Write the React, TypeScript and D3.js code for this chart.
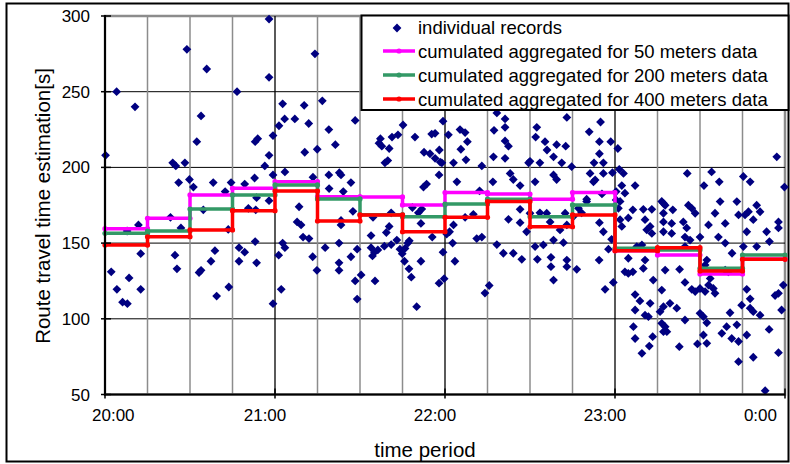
import React, { useRef, useEffect } from "react";
import * as d3 from "d3";

// individual records: [minutes after 20:00, travel time in s]
const records: [number, number][] = [
  [57.9, 298], [28.9, 278], [35.9, 265], [57.9, 259.5], [4.1, 250], [46.6, 250], [10.6, 240], [33.9, 234],
  [61.4, 227.5], [53.9, 219], [53, 217], [59.3, 221], [32.4, 217], [0.2, 208], [57.9, 208], [23.9, 203],
  [25, 201], [28.2, 203], [56.4, 201], [59.3, 195], [26, 190], [29.8, 192], [31.2, 187], [38.2, 190],
  [44.5, 190], [49.3, 189], [52.8, 193], [42.4, 184], [53.5, 180], [57.9, 178], [34.7, 172], [23.1, 167],
  [26.8, 160], [11.8, 162], [7.8, 158], [50.6, 173], [53.2, 172], [43.5, 159],
  [53, 151], [12.6, 143], [24.7, 142], [38.8, 145], [37.4, 138], [47.3, 147], [49.3, 144], [47.3, 138],
  [53.5, 137], [61.3, 142], [2.2, 131], [25.4, 133], [33.2, 130.5], [33.9, 132], [8.5, 127], [4.2, 119.5],
  [12.6, 119.5], [43.7, 121], [39.4, 115], [6.2, 111], [7.9, 110], [59.3, 110], [62.2, 119.5],
  [68.5, 174], [87.5, 171], [67.8, 164], [69.2, 162], [83.3, 165], [83.3, 162], [94.6, 167], [101, 170],
  [100.3, 161], [99.3, 157], [93.9, 155], [69.9, 154], [72, 153], [62.7, 150], [63.5, 147], [82.6, 150],
  [77.7, 147], [89, 146], [73.3, 141], [86.8, 141], [74.8, 132], [82.6, 137], [82.6, 132], [90.4, 129],
  [88.3, 125], [95.3, 125], [89, 113], [93.9, 147], [95.1, 144], [94.4, 141.5], [96.3, 145.5], [98.6, 148],
  [101, 149], [103, 152], [104.1, 146], [105.9, 146.5], [106.9, 150], [107.4, 151.5], [104.9, 143],
  [105.7, 138], [111.5, 138], [107.3, 133], [108.1, 127.5], [110, 108], [117.9, 123.5], [119.7, 126.5],
  [119.3, 144], [115.5, 154], [111.5, 163], [108.5, 173.5], [111.8, 172.5], [110.6, 170],
  [74.1, 275], [62.7, 242], [70.3, 241], [76.7, 244], [63.4, 232], [67, 232], [71.9, 229], [88.3, 231],
  [79, 225], [70.5, 210], [74.9, 212], [81.3, 215], [63.5, 197], [73.4, 193.5], [79, 195], [82.7, 196.5],
  [83.3, 195], [86.8, 190], [79.1, 186], [84.1, 184], [105.2, 228], [97.2, 219], [96.7, 216], [97.7, 214],
  [101.3, 220], [103.4, 221.5], [109.4, 220], [100.3, 212.5], [99.8, 204.5], [98.8, 203], [115.3, 222],
  [116.5, 222.5], [112.6, 210], [114.7, 209], [116.5, 206], [118.3, 203.5], [119.3, 230.5], [117.9, 195],
  [113.5, 189], [112.4, 187],
  [138.3, 236], [141.2, 232], [141.2, 226.5], [163, 233], [174.9, 230], [170.9, 223.5], [152.4, 226.5],
  [152, 220], [155.3, 217], [159.4, 215], [162.6, 214], [121.2, 221.5], [125.3, 225], [127.1, 223],
  [127.9, 217], [118, 211.5], [118.9, 203], [123, 203], [127.4, 205], [137.1, 207], [141.2, 206], [133, 201],
  [142.4, 214], [149.5, 203], [158.3, 207], [161.2, 203], [164.7, 200.5], [172.6, 203], [175.9, 203],
  [174.5, 217], [178.5, 217], [174.5, 209], [181, 212.5], [171.2, 196], [175.9, 196], [158.3, 195],
  [159.4, 192], [143, 196], [144.1, 192], [146.5, 188], [136.9, 190.5], [151.8, 190.5], [124.2, 190.5],
  [132.2, 184.5], [172.4, 190.5], [183, 196], [182.4, 188], [187.1, 188], [205.5, 196], [214.1, 197],
  [216.8, 190.5], [211.4, 188], [225.3, 194], [227.7, 190.5], [237.1, 207], [239.8, 187], [196.5, 177.5],
  [197.7, 175], [183.5, 183], [181.8, 177.5], [181.2, 173], [125.6, 212], [137.3, 224.5], [141.2, 217.5],
  [156, 211.5], [150, 204], [153.5, 203], [179.1, 196.5], [173, 191.7], [175.4, 182.5], [180.4, 184],
  [180.4, 178.5], [170, 179], [181.5, 198.7],
  [123, 162], [121.6, 157.5], [120.6, 156], [127.1, 167], [130, 169], [122.7, 150], [123.5, 138],
  [131.2, 153], [133, 154], [142.4, 165.7], [146.5, 163.5], [146.5, 172.3], [138.3, 149], [140.6, 143.3],
  [144.1, 143.3], [147.1, 139.3], [135.6, 122], [134.1, 117], [148.8, 157.5], [150, 169.7], [153.5, 170],
  [155.9, 169.7], [157.1, 164], [160.6, 158.7], [163, 162], [151.8, 147.7], [154.7, 148.8], [158.3, 152],
  [161.8, 150.3], [152.6, 139.3], [157.4, 140.6], [157.4, 134.4], [158.3, 125.6], [163, 138.8],
  [163, 134.4], [166.5, 132.7], [162.4, 169.7], [165.3, 167.5], [168.2, 170], [167.1, 173], [170, 177.4],
  [174.5, 163.5], [175.9, 157.5], [178.8, 152.5], [177.7, 146], [174.4, 138.8], [176.5, 119.5], [179.4, 124],
  [186.3, 172], [190, 172.3], [193, 172.3], [197.1, 176.3], [197.1, 169.7], [200.4, 172], [205.9, 175],
  [207.1, 173], [208.3, 169.7], [217.1, 177.4], [223, 177.4], [215.3, 169.7], [223.6, 168.6], [225.9, 168.6],
  [227.1, 170.7], [230, 175], [231.2, 170.7], [181.8, 165.5], [182.4, 161], [184.7, 166.6], [190.6, 165.5],
  [192.4, 161], [191.2, 158.8], [193, 156.4], [197.1, 164], [200, 163], [197.1, 157.5], [200, 156.4],
  [204.1, 164], [205.3, 160], [204.7, 154], [206.5, 152], [210, 154], [213, 162], [216.5, 154], [218.9, 150],
  [218.9, 163], [226.5, 157.5], [228.8, 165.5], [233.5, 157.5], [237.7, 164], [237.7, 160], [234.5, 151],
  [225.3, 147.7], [230, 147.7], [189.5, 148.8], [187.7, 147.7], [204.7, 147.7], [221.3, 143.3],
  [212.4, 138.8], [211.8, 135.5], [218.9, 132.2], [220, 131], [213.6, 126.7], [184.7, 140], [190.6, 138.8],
  [190, 133.3], [183.5, 131], [184.7, 130], [186.3, 131], [193.5, 125.6], [197.7, 132.2], [202.8, 132.7],
  [204.7, 124], [207.1, 119.5], [208.3, 118], [210, 120], [211.8, 118], [213, 122.3], [214.7, 120],
  [215.3, 116.8], [226.5, 119.5], [236.5, 115.4], [237.7, 116.8], [239.4, 122.3], [187.1, 116],
  [188.8, 111.8], [187.1, 105.8], [192.4, 110.2], [190.6, 102.4], [191.8, 101.4], [196.5, 119], [197.1, 108],
  [195.9, 104.7], [199.4, 110.2], [201.8, 107], [204.7, 99.2], [210, 103.6], [211.2, 101.4], [212.4, 97.4],
  [220.6, 104], [224.7, 109], [227.7, 107], [228.8, 104.7], [231.2, 102.4], [227.7, 113.2], [238.8, 105.8],
  [186.5, 94.8], [187.1, 87], [192.1, 82], [193.3, 88.2], [189.5, 77.2], [196.5, 97], [197.7, 94.8],
  [197.1, 91.5], [198.3, 91.5], [202.7, 81.6], [209.1, 83.4], [211.2, 89.3], [212.4, 83.8], [217.7, 90.4],
  [219.4, 94.8], [221.2, 87], [223, 96], [223.6, 85], [226.5, 89.3], [223.6, 71.7], [228.8, 74.6],
  [234.4, 93], [237.7, 77.6], [233, 52.5],
];

// 15 minute bin edges (minutes after 20:00)
const binEdges = [0, 15, 30, 45, 60, 75, 90, 105, 120, 135, 150, 165, 180, 195, 210, 225, 240];

const agg50 = [159.5, 166.4, 181.8, 186.2, 190.6, 180.6, 180.5, 175.2, 183.4, 182.4, 179, 183.4, 145, 142.1, 129.6, 139.5];
const agg200 = [156.5, 158, 172.5, 181.8, 188.4, 179.2, 168.8, 167.4, 175.8, 179, 167.4, 175.2, 146.6, 145.4, 133.4, 142.1];
const agg400 = [148.7, 154.2, 158.7, 171.4, 184.4, 164.6, 168.6, 157.5, 167, 177.4, 160.8, 168.6, 145, 147, 131.6, 139.3];

const seriesNames = [
  "cumulated aggregated for 50 meters data",
  "cumulated aggregated for 200 meters data",
  "cumulated aggregated for 400 meters data",
];
const seriesColors = ["#FF00FF", "#339966", "#FF0000"];
const yTicks = [50, 100, 150, 200, 250, 300];

const FONT = "'Liberation Sans', Arial, sans-serif";

const App = () => {
  const svgRef = useRef<SVGSVGElement>(null);

  useEffect(() => {
    const width = 790;
    const height = 464;
    const left = 105, right = 785, top = 16, bottom = 394.5;

    const svg = d3.select(svgRef.current);
    svg.selectAll("*").remove();

    const t0 = new Date(2000, 0, 1, 20, 0);
    const toDate = (m: number) => new Date(t0.getTime() + m * 60000);

    const x = d3.scaleTime().domain([t0, toDate(240)]).range([left, right]);
    const y = d3.scaleLinear().domain([50, 300]).range([bottom, top]);

    // chart border
    svg.append("rect")
      .attr("x", 6.5).attr("y", 3.5)
      .attr("width", 782).attr("height", 458)
      .attr("fill", "#fff").attr("stroke", "#000").attr("stroke-width", 2);

    // plot area border (top / right gray)
    svg.append("rect")
      .attr("x", left).attr("y", top)
      .attr("width", right - left).attr("height", bottom - top)
      .attr("fill", "#fff").attr("stroke", "#8c8c8c").attr("stroke-width", 2.5);

    // horizontal grid
    svg.append("g")
      .selectAll("line")
      .data(yTicks.slice(1, -1))
      .join("line")
      .attr("x1", left).attr("x2", right)
      .attr("y1", (d) => y(d)).attr("y2", (d) => y(d))
      .attr("stroke", "#000").attr("stroke-width", 1);

    // vertical grid: quarter hours gray, hours black
    const quarters = d3.timeMinute.every(15)!.range(toDate(15), toDate(240));
    svg.append("g")
      .selectAll("line")
      .data(quarters)
      .join("line")
      .attr("x1", (d) => x(d)).attr("x2", (d) => x(d))
      .attr("y1", top).attr("y2", bottom)
      .attr("stroke", (d) => (d.getMinutes() === 0 ? "#000" : "#8c8c8c"))
      .attr("stroke-width", (d) => (d.getMinutes() === 0 ? 1.3 : 1.5));

    // individual records
    const diamond = "M0,-4.4L4.4,0L0,4.4L-4.4,0Z";
    svg.append("g")
      .selectAll("path")
      .data(records)
      .join("path")
      .attr("transform", (d) => `translate(${x(toDate(d[0]))},${y(d[1])})`)
      .attr("d", diamond)
      .attr("fill", "#000080");

    // aggregated step series
    const line = d3.line<[number, number]>()
      .x((d) => x(toDate(d[0])))
      .y((d) => y(d[1]));

    [agg50, agg200, agg400].forEach((vals, i) => {
      const pts: [number, number][] = vals.flatMap((v, k) => [
        [binEdges[k], v] as [number, number],
        [binEdges[k + 1], v] as [number, number],
      ]);
      svg.append("path")
        .datum(pts)
        .attr("fill", "none")
        .attr("stroke", seriesColors[i])
        .attr("stroke-width", 3.5)
        .attr("d", line);
      svg.append("g")
        .selectAll("circle")
        .data(pts)
        .join("circle")
        .attr("cx", (d) => x(toDate(d[0])))
        .attr("cy", (d) => y(d[1]))
        .attr("r", 2.6)
        .attr("fill", seriesColors[i]);
    });

    // axes
    svg.append("line")
      .attr("x1", left).attr("x2", left).attr("y1", top - 1).attr("y2", bottom + 1)
      .attr("stroke", "#000").attr("stroke-width", 2);
    svg.append("line")
      .attr("x1", left - 1).attr("x2", right).attr("y1", bottom).attr("y2", bottom)
      .attr("stroke", "#000").attr("stroke-width", 2);

    const yt = svg.append("g").selectAll("g").data(yTicks).join("g");
    yt.append("line")
      .attr("x1", left - 4).attr("x2", left + 6)
      .attr("y1", (d) => y(d)).attr("y2", (d) => y(d))
      .attr("stroke", "#000").attr("stroke-width", 1.5);
    yt.append("text")
      .attr("x", left - 15)
      .attr("y", (d) => y(d) + 6)
      .attr("text-anchor", "end")
      .style("font-family", FONT)
      .style("font-size", "17px")
      .text((d) => d);

    const hours = d3.timeHour.every(1)!.range(t0, toDate(241));
    const fmt = d3.timeFormat("%-H:%M");
    const xt = svg.append("g").selectAll("g").data(hours).join("g");
    xt.append("line")
      .attr("x1", (d) => x(d)).attr("x2", (d) => x(d))
      .attr("y1", bottom - 6).attr("y2", bottom + 4)
      .attr("stroke", "#000").attr("stroke-width", 1.5);
    xt.append("text")
      .attr("x", (d, i) => x(d) + (i === 0 ? -13 : i === hours.length - 1 ? -8 : -10))
      .attr("y", bottom + 26)
      .attr("text-anchor", (d, i) => (i === 0 ? "start" : i === hours.length - 1 ? "end" : "middle"))
      .style("font-family", FONT)
      .style("font-size", "17px")
      .text((d) => fmt(d));

    // axis titles
    svg.append("text")
      .attr("x", 425)
      .attr("y", 457)
      .attr("text-anchor", "middle")
      .style("font-family", FONT)
      .style("font-size", "20.5px")
      .text("time period");

    svg.append("text")
      .attr("transform", "translate(50,206) rotate(-90)")
      .attr("text-anchor", "middle")
      .style("font-family", FONT)
      .style("font-size", "20.5px")
      .text("Route travel time estimation[s]");

    // legend
    const lg = svg.append("g");
    lg.append("rect")
      .attr("x", 361.5).attr("y", 15.5)
      .attr("width", 427).attr("height", 94.5)
      .attr("fill", "#fff").attr("stroke", "#000").attr("stroke-width", 2);

    const rowY = (i: number) => 27 + i * 24;
    lg.append("path")
      .attr("transform", `translate(397,${rowY(0) + 1})`)
      .attr("d", diamond)
      .attr("fill", "#000080");
    lg.append("text")
      .attr("x", 418).attr("y", rowY(0) + 6.5)
      .style("font-family", FONT).style("font-size", "18.5px")
      .text("individual records");

    seriesNames.forEach((name, i) => {
      const cy = rowY(i + 1);
      lg.append("line")
        .attr("x1", 383).attr("x2", 415)
        .attr("y1", cy).attr("y2", cy)
        .attr("stroke", seriesColors[i]).attr("stroke-width", 3.5);
      lg.append("circle")
        .attr("cx", 399).attr("cy", cy).attr("r", 2.6)
        .attr("fill", seriesColors[i]);
      lg.append("text")
        .attr("x", 418).attr("y", cy + 6.5)
        .style("font-family", FONT).style("font-size", "18.5px")
        .text(name);
    });
  }, []);

  return (
    <svg
      ref={svgRef}
      width={790}
      height={464}
      style={{ position: "absolute", left: 0, top: 0, background: "#fff" }}
    ></svg>
  );
};

export default App;
